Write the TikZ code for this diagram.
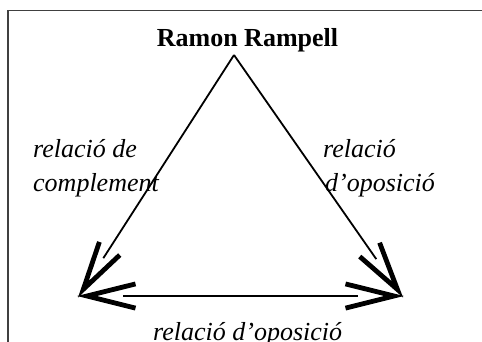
\documentclass[tikz,border=0pt]{standalone}
\usepackage{fontspec}
\setmainfont{Liberation Serif}
\usetikzlibrary{calc}
\tikzset{
  shaft/.style={line width=1.8pt, black},
  barb/.style={line width=4.8pt, black, line cap=butt, line join=miter},
  lbl/.style={inner sep=0pt, anchor=base west, font=\fontsize{26}{31}\selectfont\itshape},
  ttl/.style={inner sep=0pt, anchor=base, font=\fontsize{26}{31}\selectfont\bfseries},
}
\begin{document}
\begin{tikzpicture}[x=1pt,y=-1pt]
\useasboundingbox (0,0) rectangle (482,341);
\clip (0,0) rectangle (482,341);
\draw[line width=1.2pt, black!75] (8,10.5) rectangle (520,380);
\coordinate (A) at (234,55);
\coordinate (L) at (79,296);
\coordinate (R) at (402,296);
% arrowhead vertices (slightly inside the visible tips)
\coordinate (Lv1) at ($(L)!8pt!(A)$);
\coordinate (Rv1) at ($(R)!8pt!(A)$);
\coordinate (Lv2) at ($(L)!8pt!(R)$);
\coordinate (Rv2) at ($(R)!8pt!(L)$);
% shafts
\draw[shaft] (A) -- ($(L)!45pt!(A)$);
\draw[shaft] (A) -- ($(R)!45pt!(A)$);
\draw[shaft] ($(L)!44pt!(R)$) -- ($(R)!44pt!(L)$);
% barbs
\draw[barb] ($(Lv1)!50pt!14:(A)$) -- (Lv1) -- ($(Lv1)!50pt!-14:(A)$);
\draw[barb] ($(Rv1)!50pt!14:(A)$) -- (Rv1) -- ($(Rv1)!50pt!-14:(A)$);
\draw[barb] ($(Lv2)!50pt!14:(R)$) -- (Lv2) -- ($(Lv2)!50pt!-14:(R)$);
\draw[barb] ($(Rv2)!50pt!14:(L)$) -- (Rv2) -- ($(Rv2)!50pt!-14:(L)$);
% texts
\node[ttl] (t) at (247.5,46) {Ramon Rampell};
\node[lbl] (l1) at (33,157) {relació de};
\node[lbl] (l2) at (33,191) {complement};
\node[lbl] (r1) at (323,157) {relació};
\node[lbl] (r2) at (325,191) {d’oposició};
\node[lbl] (b) at (153,340) {relació d’oposició};
\end{tikzpicture}
\end{document}
